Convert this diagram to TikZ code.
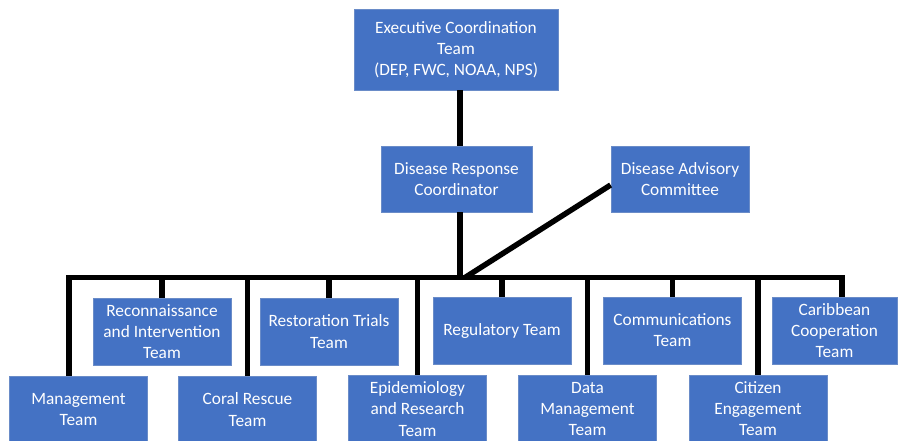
\documentclass[tikz,border=0pt]{standalone}
\usepackage{fontspec}
\setmainfont{Carlito}
\usepackage{xcolor}
\usepackage{tikz}
\usetikzlibrary{positioning,calc}
\definecolor{boxblue}{HTML}{4472C4}
\definecolor{boxedge}{HTML}{6A8CC8}
\tikzset{
  teambox/.style={rectangle,draw=boxedge,line width=.8pt,fill=boxblue,text=white,align=center,
    minimum width=138pt,minimum height=67pt,inner sep=2pt,font=\fontsize{17.3}{21.1}\selectfont},
  orgline/.style={line width=5.5pt,black}
}

\begin{document}
\begin{tikzpicture}[x=1pt,y=-1pt]
  \useasboundingbox (0,0) rectangle (899,440);
  \clip (0,0) rectangle (899,440);
  \node[teambox,minimum width=204pt,minimum height=81pt] (exec) at (456,49.5) {Executive Coordination\\Team\\(DEP, FWC, NOAA, NPS)};
  \node[teambox,minimum width=151pt,minimum height=66pt] (drc) at (456.5,179) {Disease Response\\Coordinator};
  \node[teambox,minimum height=66pt] (dac) at (680,179) {Disease Advisory\\Committee};
  \node[teambox] (recon) at (162,331.5) {Reconnaissance\\and Intervention\\Team};
  \node[teambox] (resto) at (329,331.5) {Restoration Trials\\Team};
  \node[teambox] (regul) at (502,331) {Regulatory Team};
  \node[teambox] (comm) at (672.5,330.5) {Communications\\Team};
  \node[teambox,minimum width=125pt] (carib) at (834.5,330.5) {Caribbean\\Cooperation\\Team};
  \node[teambox] (mgmt) at (78.5,409.5) {Management\\Team};
  \node[teambox] (coral) at (247.5,409.5) {Coral Rescue\\Team};
  \node[teambox] (epid) at (417.5,409) {Epidemiology\\and Research\\Team};
  \node[teambox] (datam) at (587.5,409) {Data\\Management\\Team};
  \node[teambox] (citizen) at (758,408.5) {Citizen\\Engagement\\Team};
  \coordinate (busL) at (69,277.5);
  \coordinate (busR) at (842,277.5);
  \coordinate (spine) at (460,277.5);
  \draw[orgline] (exec.south -| spine) -- (drc.north -| spine);
  \draw[orgline] (drc.south -| spine) -- (spine);
  \draw[orgline] ($(dac.west)+(0,6)$) -- ($(spine)+(5,0)$);
  \draw[orgline] (mgmt.north -| busL) -- (busL) -- (busR) -- (carib.north -| busR);
  \foreach \t in {recon,resto,regul,comm,coral,epid,datam,citizen}
    \draw[orgline] (\t.north |- busL) -- (\t.north);
\end{tikzpicture}
\end{document}
